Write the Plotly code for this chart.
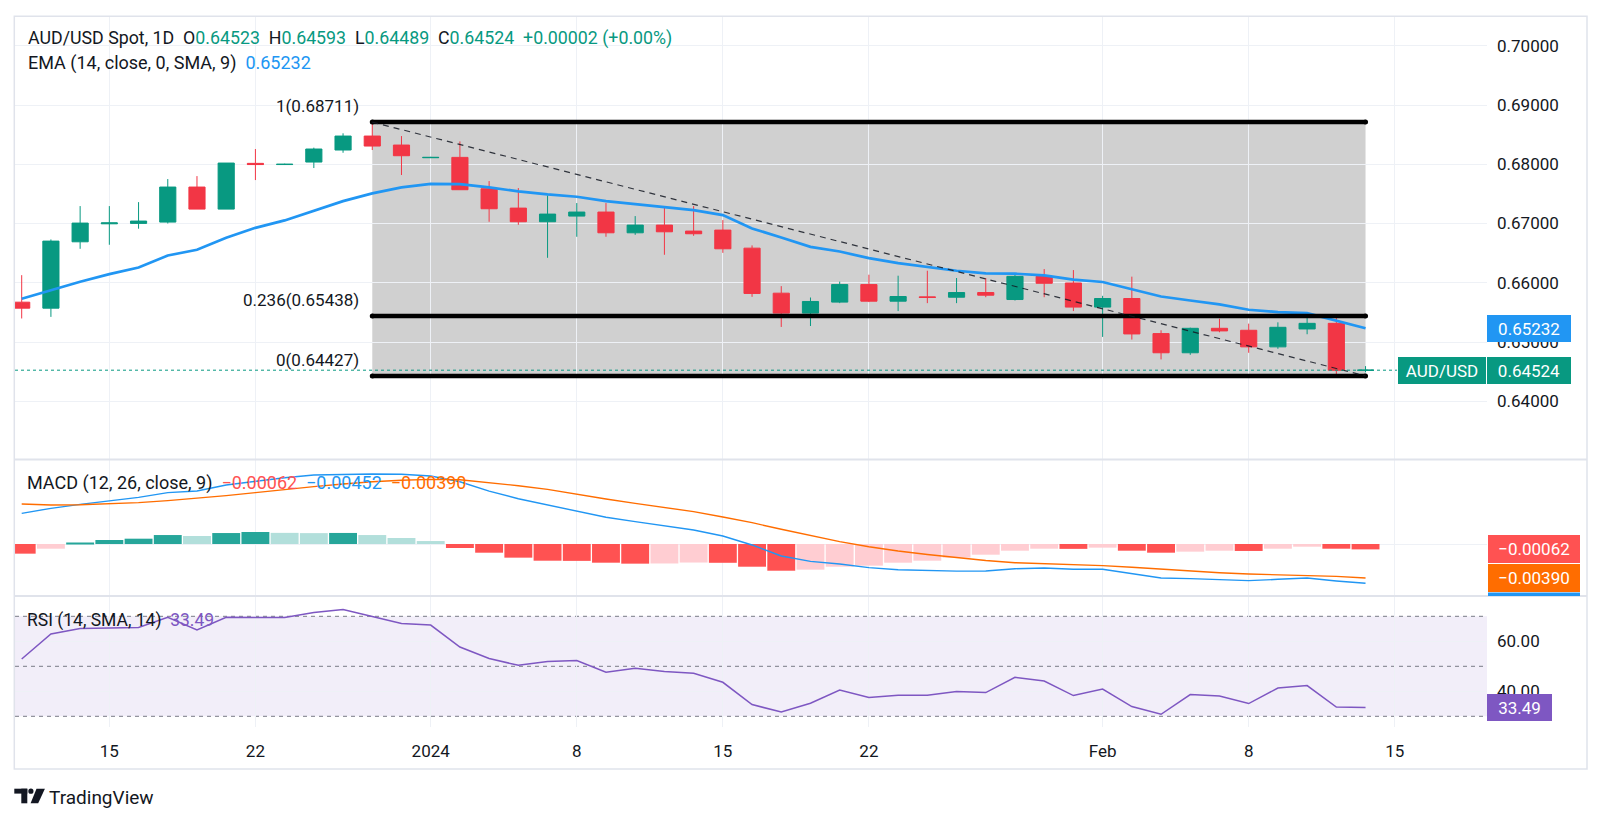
import plotly.graph_objects as go
import pandas as pd

# ---------------- data ----------------
dates = ["2023-12-12", "2023-12-13", "2023-12-14", "2023-12-15", "2023-12-18", "2023-12-19",
         "2023-12-20", "2023-12-21", "2023-12-22", "2023-12-25", "2023-12-26", "2023-12-27",
         "2023-12-28", "2023-12-29", "2024-01-01", "2024-01-02", "2024-01-03", "2024-01-04",
         "2024-01-05", "2024-01-08", "2024-01-09", "2024-01-10", "2024-01-11", "2024-01-12",
         "2024-01-15", "2024-01-16", "2024-01-17", "2024-01-18", "2024-01-19", "2024-01-22",
         "2024-01-23", "2024-01-24", "2024-01-25", "2024-01-26", "2024-01-29", "2024-01-30",
         "2024-01-31", "2024-02-01", "2024-02-02", "2024-02-05", "2024-02-06", "2024-02-07",
         "2024-02-08", "2024-02-09", "2024-02-12", "2024-02-13", "2024-02-14"]

opens = [0.65672, 0.65571, 0.66691, 0.66995, 0.67002, 0.67024, 0.67615, 0.67243, 0.68015, 0.67995,
         0.68037, 0.68240, 0.68476, 0.68324, 0.68110, 0.68116, 0.67586, 0.67260, 0.67030, 0.67125,
         0.67193, 0.66843, 0.66973, 0.66872, 0.66889, 0.66584, 0.65824, 0.65488, 0.65673, 0.65969,
         0.65689, 0.65762, 0.65756, 0.65835, 0.65717, 0.66108, 0.65996, 0.65589, 0.65734, 0.65142,
         0.64818, 0.65231, 0.65198, 0.64918, 0.65220, 0.65315, 0.64523]
highs = [0.66128, 0.66731, 0.67294, 0.67294, 0.67361, 0.67750, 0.67800, 0.68020, 0.68257, 0.68010,
         0.68280, 0.68522, 0.68711, 0.68476, 0.68125, 0.68386, 0.67716, 0.67598, 0.67475, 0.67345,
         0.67345, 0.67125, 0.67294, 0.67294, 0.67057, 0.66630, 0.65943, 0.65751, 0.66019, 0.66136,
         0.66119, 0.66203, 0.66080, 0.66080, 0.66136, 0.66231, 0.66214, 0.65779, 0.66103, 0.65198,
         0.65242, 0.65393, 0.65310, 0.65332, 0.65427, 0.65410, 0.64593]
lows = [0.65397, 0.65424, 0.66573, 0.66641, 0.66912, 0.67000, 0.67243, 0.67243, 0.67733, 0.67990,
        0.67936, 0.68194, 0.68240, 0.67818, 0.68105, 0.67570, 0.67029, 0.66978, 0.66421, 0.66776,
        0.66776, 0.66809, 0.66472, 0.66792, 0.66505, 0.65762, 0.65254, 0.65270, 0.65656, 0.65673,
        0.65522, 0.65656, 0.65656, 0.65756, 0.65700, 0.65756, 0.65522, 0.65086, 0.65041, 0.64706,
        0.64784, 0.65164, 0.64818, 0.64885, 0.65131, 0.64433, 0.64489]
closes = [0.65571, 0.66703, 0.67007, 0.67010, 0.67041, 0.67615, 0.67243, 0.68020, 0.67995, 0.68000,
          0.68257, 0.68476, 0.68307, 0.68144, 0.68116, 0.67570, 0.67249, 0.67030, 0.67159, 0.67193,
          0.66843, 0.66973, 0.66860, 0.66827, 0.66573, 0.65819, 0.65488, 0.65684, 0.65969, 0.65689,
          0.65768, 0.65751, 0.65835, 0.65790, 0.66108, 0.65991, 0.65589, 0.65734, 0.65136, 0.64818,
          0.65231, 0.65187, 0.64918, 0.65248, 0.65315, 0.64522, 0.64524]
ema14 = [0.65729, 0.65875, 0.66016, 0.66145, 0.66258, 0.66461, 0.66556, 0.66759, 0.66927, 0.67052,
         0.67209, 0.67378, 0.67508, 0.67610, 0.67670, 0.67666, 0.67610, 0.67542, 0.67491, 0.67452,
         0.67378, 0.67328, 0.67283, 0.67226, 0.67142, 0.66917, 0.66765, 0.66605, 0.66527, 0.66416,
         0.66332, 0.66270, 0.66203, 0.66159, 0.66153, 0.66125, 0.66052, 0.66013, 0.65896, 0.65768,
         0.65701, 0.65634, 0.65544, 0.65505, 0.65488, 0.65365, 0.65232]
macd_line = [0.00352, 0.00410, 0.00456, 0.00498, 0.00536, 0.00590, 0.00609, 0.00678, 0.00724, 0.00762,
             0.00793, 0.00801, 0.00805, 0.00801, 0.00782, 0.00716, 0.00608, 0.00520, 0.00448, 0.00383,
             0.00307, 0.00257, 0.00211, 0.00161, 0.00092, -0.00011, -0.00138, -0.00200, -0.00230, -0.00272,
             -0.00296, -0.00307, -0.00312, -0.00310, -0.00284, -0.00276, -0.00291, -0.00291, -0.00337, -0.00391,
             -0.00398, -0.00410, -0.00421, -0.00406, -0.00391, -0.00425, -0.00452]
signal_line = [0.00460, 0.00448, 0.00452, 0.00460, 0.00475, 0.00498, 0.00525, 0.00556, 0.00590, 0.00628,
               0.00659, 0.00690, 0.00716, 0.00732, 0.00743, 0.00739, 0.00705, 0.00670, 0.00628, 0.00571,
               0.00517, 0.00467, 0.00418, 0.00372, 0.00310, 0.00245, 0.00169, 0.00096, 0.00027, -0.00031,
               -0.00080, -0.00120, -0.00155, -0.00190, -0.00215, -0.00226, -0.00238, -0.00249, -0.00268, -0.00291,
               -0.00314, -0.00330, -0.00345, -0.00352, -0.00360, -0.00372, -0.00390]
macd_hist = [-0.00111, -0.00054, 0.00015, 0.00046, 0.00061, 0.00103, 0.00092, 0.00126, 0.00138, 0.00128,
             0.00125, 0.00127, 0.00103, 0.00069, 0.00034, -0.00046, -0.00100, -0.00157, -0.00192, -0.00194,
             -0.00215, -0.00226, -0.00224, -0.00213, -0.00216, -0.00261, -0.00307, -0.00295, -0.00261, -0.00249,
             -0.00215, -0.00192, -0.00157, -0.00123, -0.00077, -0.00054, -0.00056, -0.00042, -0.00077, -0.00100,
             -0.00088, -0.00077, -0.00080, -0.00054, -0.00031, -0.00054, -0.00062]
rsi14 = [52.9, 62.9, 65.1, 65.3, 65.5, 69.6, 64.5, 69.6, 69.6, 69.5,
         71.5, 72.7, 69.9, 67.1, 66.5, 57.7, 53.1, 50.4, 51.9, 52.3,
         47.6, 49.2, 47.9, 47.2, 43.6, 34.7, 31.7, 35.2, 40.5, 37.5,
         38.4, 38.4, 39.9, 39.5, 45.6, 44.1, 38.3, 40.9, 33.9, 30.8,
         38.7, 38.1, 35.1, 41.3, 42.3, 33.7, 33.49]

tick_dates = ["2023-12-15", "2023-12-22", "2024-01-01", "2024-01-08", "2024-01-15",
              "2024-01-22", "2024-02-01", "2024-02-08", "2024-02-15"]
tick_labels = ["15", "22", "2024", "8", "15", "22", "Feb", "8", "15"]
price_ticks = [0.64, 0.65, 0.66, 0.67, 0.68, 0.69, 0.70]
rsi_ticks = [40, 60]
rsi_levels = [70, 50, 30]
fib_start, fib_end = "2023-12-28", "2024-02-14"
fib_high, fib_low = 0.68711, 0.64427
fib_ratios = [1, 0.236, 0]

# ---------------- styling / geometry ----------------
W, H = 1601, 823
FONT = "Roboto"
TXT = "#131722"
GRID = "#eef1f6"
UP, DN = "#089981", "#f23645"
BLUE, ORANGE, PURPLE = "#2196f3", "#ff6d00", "#7e57c2"
H_UP, H_UP_L, H_DN, H_DN_L = "#26a69a", "#b2dfdb", "#ff5252", "#ffcdd2"

PL, PR = 15, 1487            # plot pane left/right (px)
T_MAIN, B_MAIN = 16.3, 459.5
B_MACD, B_RSI = 596, 727


def fx(px):
    return px / W


def fy(py):
    return 1 - py / H


def fmt(v, d=5):
    return f"{v:.{d}f}".replace("-", "\u2212")


cal = pd.bdate_range(dates[0], periods=len(dates) + 10)
pos = {d.strftime("%Y-%m-%d"): i for i, d in enumerate(cal)}
xs = [pos[d] for d in dates]
tick_pos = [pos[d] for d in tick_dates]

BAR_PX = 29.214
X0_PX = 21.7
xr = [(PL - X0_PX) / BAR_PX, (PR - X0_PX) / BAR_PX]

# y ranges from pixel scales
main_ppu = 5925.0
main_ref_px, main_ref_v = 105.0, 0.69
yr_main = [main_ref_v - (B_MAIN - main_ref_px) / main_ppu, main_ref_v + (main_ref_px - T_MAIN) / main_ppu]
macd_ppu, macd_zero_px = 8700.0, 544.0
yr_macd = [-(B_MACD - macd_zero_px) / macd_ppu, (macd_zero_px - B_MAIN) / macd_ppu]
rsi_ppu, rsi70_px = 2.5, 616.3
yr_rsi = [70 - (B_RSI - rsi70_px) / rsi_ppu, 70 + (rsi70_px - B_MACD) / rsi_ppu]

# histogram colours
hist_colors = []
for i, v in enumerate(macd_hist):
    prev = macd_hist[i - 1] if i > 0 else v + 1e-9
    if v >= 0:
        hist_colors.append(H_UP if v > prev else H_UP_L)
    else:
        hist_colors.append(H_DN if v < prev else H_DN_L)

fig = go.Figure()

fig.add_trace(go.Candlestick(
    x=xs, open=opens, high=highs, low=lows, close=closes,
    increasing=dict(line=dict(color=UP, width=1), fillcolor=UP),
    decreasing=dict(line=dict(color=DN, width=1), fillcolor=DN),
    whiskerwidth=0, xaxis="x", yaxis="y", showlegend=False, hoverinfo="skip"))

fig.add_trace(go.Scatter(x=xs, y=ema14, mode="lines", line=dict(color=BLUE, width=2.7),
                         xaxis="x", yaxis="y", showlegend=False, hoverinfo="skip"))

fx0, fx1 = pos[fib_start], pos[fib_end]
fib_levels = [fib_low + r * (fib_high - fib_low) for r in fib_ratios]
for lvl in fib_levels:
    fig.add_trace(go.Scatter(x=[fx0, fx1], y=[lvl, lvl], mode="lines+markers",
                             line=dict(color="black", width=4.5),
                             marker=dict(color="black", size=5),
                             xaxis="x", yaxis="y", showlegend=False, hoverinfo="skip"))
fig.add_trace(go.Scatter(x=[fx0, fx1], y=[fib_high, fib_low], mode="lines",
                         line=dict(color="rgba(19,23,34,0.85)", width=1.2, dash="6px,5px"),
                         xaxis="x", yaxis="y", showlegend=False, hoverinfo="skip"))

fig.add_trace(go.Bar(x=xs, y=macd_hist, marker=dict(color=hist_colors, line=dict(width=0)),
                     width=0.955, xaxis="x2", yaxis="y2", showlegend=False, hoverinfo="skip"))
fig.add_trace(go.Scatter(x=xs, y=macd_line, mode="lines", line=dict(color=BLUE, width=1.4),
                         xaxis="x2", yaxis="y2", showlegend=False, hoverinfo="skip"))
fig.add_trace(go.Scatter(x=xs, y=signal_line, mode="lines", line=dict(color=ORANGE, width=1.4),
                         xaxis="x2", yaxis="y2", showlegend=False, hoverinfo="skip"))

fig.add_trace(go.Scatter(x=xs, y=rsi14, mode="lines", line=dict(color=PURPLE, width=1.5),
                         xaxis="x3", yaxis="y3", showlegend=False, hoverinfo="skip"))

xdom = [fx(PL), fx(PR)]
xcommon = dict(domain=xdom, range=xr, tickvals=tick_pos, ticktext=tick_labels, showgrid=True,
               gridcolor=GRID, gridwidth=1, zeroline=False, showline=False, ticks="",
               showticklabels=False, fixedrange=True)

shapes = []
# fib gray fill
shapes.append(dict(type="rect", xref="x", yref="y", x0=fx0, x1=fx1, y0=fib_low, y1=fib_high,
                   fillcolor="rgba(128,128,128,0.37)", line=dict(width=0), layer="below"))
# RSI band
shapes.append(dict(type="rect", xref="x3 domain", yref="y3", x0=0, x1=1, y0=min(rsi_levels),
                   y1=max(rsi_levels), fillcolor="rgba(126,87,194,0.1)", line=dict(width=0),
                   layer="below"))
for lv in rsi_levels:
    shapes.append(dict(type="line", xref="x3 domain", yref="y3", x0=0, x1=1, y0=lv, y1=lv,
                       line=dict(color="#787b86", width=1, dash="4px,4px"), layer="below"))
# last price dotted line
shapes.append(dict(type="line", xref="paper", yref="y", x0=fx(PL), x1=fx(1397), y0=closes[-1],
                   y1=closes[-1], line=dict(color=UP, width=1, dash="dot"), layer="above"))
# frame and separators
shapes.append(dict(type="rect", xref="paper", yref="paper", x0=fx(14.3), x1=fx(1587),
                   y0=fy(769), y1=fy(16.3), line=dict(color="#e0e3eb", width=1.5)))
for py in (B_MAIN, B_MACD):
    shapes.append(dict(type="line", xref="paper", yref="paper", x0=fx(14.3), x1=fx(1587),
                       y0=fy(py), y1=fy(py), line=dict(color="#e0e3eb", width=2)))
# blue MACD label (pushed below orange label, clipped by pane)
box_h = 28 / macd_ppu
shapes.append(dict(type="rect", xref="paper", yref="y2", x0=fx(1488), x1=fx(1580),
                   y0=yr_macd[0], y1=signal_line[-1] - box_h / 2 - 0.5 / macd_ppu,
                   fillcolor=BLUE, line=dict(width=0)))
# TradingView logo
shapes += [
    dict(type="rect", xref="paper", yref="paper", x0=fx(14.3), x1=fx(27.3), y0=fy(793.6), y1=fy(788.7),
         fillcolor=TXT, line=dict(width=0)),
    dict(type="rect", xref="paper", yref="paper", x0=fx(21.3), x1=fx(27.3), y0=fy(803.3), y1=fy(788.7),
         fillcolor=TXT, line=dict(width=0)),
    dict(type="circle", xref="paper", yref="paper", x0=fx(28.3), x1=fx(33.5), y0=fy(793.8), y1=fy(788.6),
         fillcolor=TXT, line=dict(width=0)),
    dict(type="path", xref="paper", yref="paper",
         path=f"M {fx(36.5)},{fy(788.7)} L {fx(44.9)},{fy(788.7)} L {fx(38.2)},{fy(803.3)} "
              f"L {fx(30.6)},{fy(803.3)} Z",
         fillcolor=TXT, line=dict(width=0)),
]

g = UP
chg = closes[-1] - closes[-2]
pct = chg / closes[-2] * 100
hdr1 = (f"AUD/USD Spot, 1D&nbsp;&nbsp;O<span style='color:{g}'>{opens[-1]:.5f}</span>"
        f"&nbsp;&nbsp;H<span style='color:{g}'>{highs[-1]:.5f}</span>"
        f"&nbsp;&nbsp;L<span style='color:{g}'>{lows[-1]:.5f}</span>"
        f"&nbsp;&nbsp;C<span style='color:{g}'>{closes[-1]:.5f}</span>"
        f"&nbsp;&nbsp;<span style='color:{g}'>{chg:+.5f} ({pct:+.2f}%)</span>")
hdr2 = f"EMA (14, close, 0, SMA, 9)&nbsp;&nbsp;<span style='color:{BLUE}'>{ema14[-1]:.5f}</span>"
hdr3 = (f"MACD (12, 26, close, 9)&nbsp;&nbsp;<span style='color:{H_DN}'>{fmt(macd_hist[-1])}</span>"
        f"&nbsp;&nbsp;<span style='color:{BLUE}'>{fmt(macd_line[-1])}</span>"
        f"&nbsp;&nbsp;<span style='color:{ORANGE}'>{fmt(signal_line[-1])}</span>")
hdr4 = f"RSI (14, SMA, 14)&nbsp;&nbsp;<span style='color:{PURPLE}'>{rsi14[-1]:.2f}</span>"

ann = []
for txt, px, py, fs in ((hdr1, 25.6, 38.3, 17.8), (hdr2, 25.6, 63.3, 18), (hdr3, 24.7, 483.3, 18),
                        (hdr4, 24.5, 620, 17.5)):
    ann.append(dict(xref="paper", yref="paper", x=fx(px), y=fy(py), xanchor="left", yanchor="middle",
                    text=txt, showarrow=False, font=dict(family=FONT, size=fs, color=TXT)))

for r, lvl in zip(fib_ratios, fib_levels):
    ann.append(dict(xref="x", yref="y", x=fx0, y=lvl, xanchor="right", yanchor="middle",
                    xshift=-11, yshift=16, text=f"{r}({lvl:.5f})", showarrow=False,
                    font=dict(family=FONT, size=17, color=TXT)))


def box(text, yref, y, color, x, anchor, w, h=19):
    return dict(xref="paper", yref=yref, x=fx(x), y=y, xanchor=anchor, yanchor="middle",
                text=text, showarrow=False, bgcolor=color, width=w, height=h, borderpad=4,
                borderwidth=0, font=dict(family=FONT, size=17, color="white"))


ann.append(box(f"{ema14[-1]:.5f}", "y", ema14[-1], BLUE, 1487, "left", 76))
ann.append(box(f"{closes[-1]:.5f}", "y", closes[-1], UP, 1487, "left", 76))
ann.append(box("AUD/USD", "y", closes[-1], UP, 1485.7, "right", 80))
ann.append(box(fmt(macd_hist[-1]), "y2", macd_hist[-1], H_DN, 1488, "left", 84, 20))
ann.append(box(fmt(signal_line[-1]), "y2", signal_line[-1], ORANGE, 1488, "left", 84, 20))
ann.append(box(f"{rsi14[-1]:.2f}", "y3", rsi14[-1], PURPLE, 1487, "left", 57))
ann.append(dict(xref="paper", yref="paper", x=fx(46.5), y=fy(797), xanchor="left", yanchor="middle",
                text="TradingView", showarrow=False, font=dict(family=FONT, size=19, color=TXT)))

yaxis_common = dict(side="right", showgrid=True, gridcolor=GRID, gridwidth=1, zeroline=False,
                    showline=False, ticks="", fixedrange=True,
                    tickfont=dict(family=FONT, size=17, color=TXT), ticklabelstandoff=9)

fig.update_layout(
    width=W, height=H, autosize=False,
    margin=dict(l=0, r=0, t=0, b=0),
    paper_bgcolor="white", plot_bgcolor="white",
    showlegend=False, boxgap=0.21, hovermode=False,
    font=dict(family=FONT, color=TXT),
    xaxis=dict(xcommon, anchor="y", rangeslider=dict(visible=False)),
    xaxis2=dict(xcommon, anchor="y2"),
    xaxis3=dict(xcommon, anchor="y3", showticklabels=True,
                tickfont=dict(family=FONT, size=17, color=TXT), ticklabelstandoff=12),
    yaxis=dict(yaxis_common, domain=[fy(B_MAIN), fy(T_MAIN)], range=yr_main, anchor="x",
               tickvals=price_ticks, ticktext=[f"{v:.5f}" for v in price_ticks]),
    yaxis2=dict(yaxis_common, domain=[fy(B_MACD), fy(B_MAIN)], range=yr_macd, anchor="x2",
                tickvals=[0], showticklabels=False),
    yaxis3=dict(yaxis_common, domain=[fy(B_RSI), fy(B_MACD)], range=yr_rsi, anchor="x3",
                tickvals=rsi_ticks, ticktext=[f"{v:.2f}" for v in rsi_ticks]),
    shapes=shapes,
    annotations=ann,
)

fig.write_html("out.html", config={"displayModeBar": False},
               post_script="document.body.style.margin='0';document.body.style.overflow='hidden';")
